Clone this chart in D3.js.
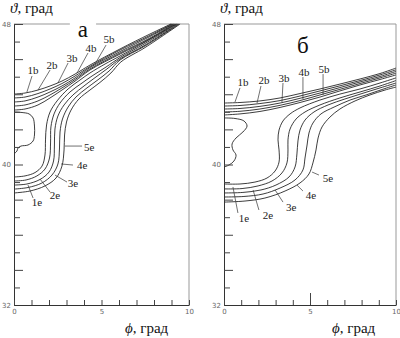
<!DOCTYPE html>
<html>
<head>
<meta charset="utf-8">
<script src="https://cdn.jsdelivr.net/npm/d3@7"></script>
<style>
  body { margin: 0; background: #fff; }
  svg { display: block; }
</style>
</head>
<body>
<div id="chart"></div>
<script>
// axis ranges and ticks (degrees)
const phiDomain = [0, 10];
const thetaDomain = [32, 48];
const phiTicks = [0, 1, 2, 3, 4, 5, 6, 7, 8, 9, 10];
const thetaTicks = [32, 33, 34, 35, 36, 37, 38, 39, 40, 41, 42, 43, 44, 45, 46, 47, 48];
const phiTickLabels = [0, 5, 10];
const thetaTickLabels = [32, 40, 48];

// panel "а": [phi, theta] points of each curve
const aB = [
  [[0,44.01],[0.63,44.07],[1.37,44.24],[2.06,44.47],[2.74,44.75],[3.49,45.15],[4.34,45.66],[6.06,46.58],[7.77,47.43],[8.97,48]],
  [[0,43.79],[0.63,43.84],[1.37,44.04],[2.06,44.30],[2.74,44.61],[3.49,45.04],[4.34,45.58],[6.06,46.52],[7.77,47.35],[9.03,48]],
  [[0,43.56],[0.63,43.62],[1.37,43.84],[2.06,44.13],[2.74,44.47],[3.49,44.93],[4.34,45.52],[6.06,46.43],[7.77,47.29],[9.09,48]],
  [[0,43.33],[0.63,43.39],[1.37,43.62],[2.06,43.96],[2.74,44.36],[3.49,44.84],[4.34,45.44],[6.06,46.35],[7.77,47.20],[9.14,48]],
  [[0,43.10],[0.63,43.16],[1.37,43.39],[2.06,43.79],[2.74,44.24],[3.49,44.75],[4.34,45.38],[6.06,46.29],[7.77,47.15],[9.2,48]]
];
const aE = [
  [[0,39.29],[0.63,39.35],[1.2,39.54],[1.6,39.91],[1.77,40.54],[1.8,41.4],[1.86,42.25],[2.06,42.99],[2.46,43.62],[3.09,44.3],[3.77,44.81],[4.34,45.21],[5.2,45.72],[6.06,46.18],[7.49,46.97],[9.26,48]],
  [[0,39.06],[0.69,39.12],[1.31,39.35],[1.77,39.74],[2.03,40.37],[2.09,41.28],[2.11,42.14],[2.29,42.88],[2.63,43.5],[3.2,44.13],[3.89,44.64],[4.46,45.04],[5.26,45.55],[6.06,46.09],[7.49,46.89],[9.31,48]],
  [[0,38.83],[0.74,38.89],[1.49,39.15],[2.0,39.57],[2.26,40.2],[2.31,41.11],[2.34,42.02],[2.51,42.76],[2.86,43.39],[3.37,43.96],[4.0,44.47],[4.57,44.9],[5.31,45.44],[6.06,46.01],[7.49,46.8],[9.37,48]],
  [[0,38.6],[0.8,38.69],[1.6,38.95],[2.17,39.4],[2.51,40.03],[2.6,40.94],[2.63,41.85],[2.77,42.59],[3.09,43.27],[3.54,43.84],[4.17,44.36],[4.74,44.78],[5.43,45.32],[6.06,45.95],[7.49,46.75],[9.43,48]],
  [[0,38.38],[0.91,38.49],[1.77,38.78],[2.4,39.23],[2.74,39.91],[2.86,40.83],[2.89,41.68],[3.0,42.42],[3.26,43.1],[3.71,43.73],[4.34,44.24],[4.91,44.67],[5.54,45.21],[6.11,45.84],[7.49,46.66],[9.49,48]]
];
const aInner = [[0,42.99],[0.46,42.96],[0.86,42.88],[1.09,42.65],[1.17,42.19],[1.17,41.68],[1.09,41.34],[0.8,41.11],[0.4,41.05],[0.23,40.94],[0.17,40.77],[0,40.6]];

// panel "б"
const bB = [
  [[0,43.50],[0.93,43.53],[2.09,43.62],[3.26,43.79],[4.42,44.04],[5.58,44.30],[6.74,44.58],[7.91,44.87],[9.07,45.18],[10,45.49]],
  [[0,43.33],[0.93,43.36],[2.09,43.47],[3.26,43.64],[4.42,43.90],[5.58,44.19],[6.74,44.48],[7.91,44.78],[9.07,45.10],[10,45.39]],
  [[0,43.16],[0.93,43.19],[2.09,43.31],[3.26,43.50],[4.42,43.77],[5.58,44.07],[6.74,44.38],[7.91,44.70],[9.07,45.01],[10,45.30]],
  [[0,42.99],[0.93,43.03],[2.09,43.16],[3.26,43.37],[4.42,43.64],[5.58,43.96],[6.74,44.28],[7.91,44.61],[9.07,44.93],[10,45.20]],
  [[0,42.82],[0.93,42.88],[2.09,43.02],[3.26,43.25],[4.42,43.53],[5.58,43.84],[6.74,44.19],[7.91,44.53],[9.07,44.84],[10,45.10]]
];
const bE = [
  [[0,38.89],[0.93,38.89],[1.8,39.0],[2.5,39.23],[2.97,39.63],[3.2,40.14],[3.2,40.83],[3.14,41.4],[3.2,41.96],[3.43,42.48],[3.84,42.88],[4.42,43.22],[5.58,43.67],[6.74,44.01],[7.91,44.3],[9.07,44.64],[10,44.93]],
  [[0,38.61],[1.05,38.63],[1.98,38.78],[2.79,39.06],[3.37,39.52],[3.66,40.09],[3.72,40.83],[3.72,41.4],[3.84,42.02],[4.19,42.59],[4.71,42.99],[5.58,43.39],[6.74,43.79],[7.91,44.13],[9.07,44.47],[10,44.78]],
  [[0,38.38],[1.1,38.41],[2.15,38.55],[3.02,38.83],[3.78,39.29],[4.13,39.86],[4.24,40.6],[4.3,41.34],[4.42,41.96],[4.71,42.53],[5.23,42.99],[6.05,43.39],[7.03,43.73],[8.02,44.04],[9.07,44.36],[10,44.64]],
  [[0,38.15],[1.16,38.18],[2.27,38.32],[3.26,38.66],[4.13,39.12],[4.59,39.69],[4.71,40.37],[4.83,41.11],[4.94,41.79],[5.17,42.36],[5.64,42.88],[6.4,43.27],[7.33,43.67],[8.26,43.96],[9.19,44.27],[10,44.53]],
  [[0,37.86],[1.22,37.92],[2.38,38.09],[3.55,38.49],[4.42,38.95],[4.94,39.46],[5.17,40.09],[5.35,40.83],[5.47,41.51],[5.7,42.14],[6.16,42.7],[6.74,43.16],[7.62,43.62],[8.49,43.96],[9.36,44.24],[10,44.41]]
];
const bInner = [[0,42.65],[0.64,42.62],[1.16,42.48],[1.34,42.19],[1.1,41.85],[0.7,41.51],[0.47,41.17],[0.52,40.83],[0.7,40.54],[0.58,40.2],[0.29,39.97],[0,39.86]];

// curve labels: text, label position, leader start, leader end
const aLabels = [
  ["1b", [1.09,45.38], [1.03,45.04], [0.74,44.13]],
  ["2b", [2.17,45.67], [2.06,45.38], [1.37,44.24]],
  ["3b", [3.31,46.06], [3.09,45.78], [2.51,44.64]],
  ["4b", [4.4,46.63], [4.23,46.35], [3.6,45.21]],
  ["5b", [5.43,47.15], [5.26,46.8], [4.63,45.72]],
  ["1e", [1.31,37.86], [1.09,38.09], [0.8,38.83]],
  ["2e", [2.34,38.26], [2.06,38.43], [1.49,39.17]],
  ["3e", [3.37,38.95], [3.03,39.0], [2.34,39.4]],
  ["4e", [3.89,39.97], [3.37,39.97], [2.69,40.03]],
  ["5e", [4.29,41.0], [3.89,41.05], [2.91,41.05]]
];
const bLabels = [
  ["1b", [1.1,44.7], [0.93,44.36], [0.64,43.56]],
  ["2b", [2.33,44.81], [2.15,44.47], [1.92,43.5]],
  ["3b", [3.49,44.93], [3.43,44.64], [3.37,43.56]],
  ["4b", [4.65,45.27], [4.59,44.98], [4.59,43.73]],
  ["5b", [5.81,45.44], [5.76,45.15], [5.76,43.96]],
  ["1e", [1.16,36.95], [0.81,37.24], [0.52,38.72]],
  ["2e", [2.56,37.12], [2.03,37.41], [1.69,38.55]],
  ["3e", [3.9,37.58], [3.43,37.86], [2.97,38.55]],
  ["4e", [5.06,38.26], [4.59,38.49], [4.24,38.83]],
  ["5e", [6.05,39.23], [5.52,39.4], [5.12,39.57]]
];

const svg = d3.select("#chart").append("svg")
  .attr("width", 400)
  .attr("height", 338);

const panels = [
  { left: 14, right: 189, letter: "а", letterAt: [3.94, 47.66], boxed: true,
    b: aB, e: aE, inner: aInner, labels: aLabels, longTick5: false },
  { left: 224, right: 396, letter: "б", letterAt: [4.59, 46.8], boxed: false,
    b: bB, e: bE, inner: bInner, labels: bLabels, longTick5: true }
];

const plotTop = 24, plotBottom = 305;

panels.forEach(p => {
  const x = d3.scaleLinear().domain(phiDomain).range([p.left, p.right]);
  const y = d3.scaleLinear().domain(thetaDomain).range([plotBottom, plotTop]);
  const g = svg.append("g");

  // top and right frame (grey)
  g.append("path")
    .attr("d", `M${x(0)},${y(48)}H${x(10)}V${y(32)}`)
    .attr("fill", "none")
    .attr("stroke", "#999")
    .attr("stroke-width", 1);

  const line = d3.line()
    .x(d => x(d[0]))
    .y(d => y(d[1]))
    .curve(d3.curveCatmullRom.alpha(0.5));

  const curves = [...p.b, ...p.e, p.inner];
  g.selectAll("path.curve")
    .data(curves)
    .enter()
    .append("path")
    .attr("class", "curve")
    .attr("d", line)
    .attr("fill", "none")
    .attr("stroke", "#1a1a1a")
    .attr("stroke-width", 0.85);

  // leader lines and labels
  g.selectAll("line.leader")
    .data(p.labels)
    .enter()
    .append("line")
    .attr("x1", d => x(d[2][0]))
    .attr("y1", d => y(d[2][1]))
    .attr("x2", d => x(d[3][0]))
    .attr("y2", d => y(d[3][1]))
    .attr("stroke", "#333")
    .attr("stroke-width", 0.7);

  g.selectAll("text.lbl")
    .data(p.labels)
    .enter()
    .append("text")
    .attr("x", d => x(d[1][0]))
    .attr("y", d => y(d[1][1]))
    .attr("text-anchor", "middle")
    .attr("dominant-baseline", "central")
    .style("font-family", "'Liberation Serif', serif")
    .style("font-size", "11px")
    .style("fill", "#222")
    .text(d => d[0]);

  // left axis, ticks pointing inward
  const yAxis = g.append("g")
    .attr("transform", `translate(${p.left},0)`)
    .call(d3.axisLeft(y)
      .tickValues(thetaTicks)
      .tickSizeInner(-6)
      .tickSizeOuter(0)
      .tickPadding(3)
      .tickFormat(d => thetaTickLabels.includes(d) ? d : ""));
  yAxis.selectAll(".tick line")
    .attr("x2", d => d % 2 === 0 ? 9 : 6)
    .attr("stroke", "#444");
  yAxis.select(".domain").attr("stroke", "#333");

  const xAxis = g.append("g")
    .attr("transform", `translate(0,${plotBottom})`)
    .call(d3.axisBottom(x)
      .tickValues(phiTicks)
      .tickSizeInner(-5)
      .tickSizeOuter(0)
      .tickPadding(4)
      .tickFormat(d => phiTickLabels.includes(d) ? d : ""));
  xAxis.selectAll(".tick line")
    .attr("y2", d => (p.longTick5 && d === 5) ? -12 : -5)
    .attr("stroke", "#444");
  xAxis.select(".domain").attr("stroke", "#333");

  [yAxis, xAxis].forEach(ax => ax.selectAll("text")
    .style("font-family", "'DejaVu Sans', sans-serif")
    .style("font-size", "7px")
    .style("fill", "#666"));

  // panel letter
  const letter = g.append("text")
    .attr("x", x(p.letterAt[0]))
    .attr("y", y(p.letterAt[1]))
    .attr("text-anchor", "middle")
    .attr("dominant-baseline", "central")
    .style("font-family", "'Liberation Serif', serif")
    .style("font-size", "23px")
    .style("fill", "#111")
    .text(p.letter);
  if (p.boxed) {
    const bb = letter.node().getBBox();
    g.insert("rect", () => letter.node())
      .attr("x", bb.x - 8)
      .attr("y", bb.y - 2)
      .attr("width", bb.width + 16)
      .attr("height", bb.height + 2)
      .attr("fill", "#fff");
  }

  // axis titles
  const yTitle = svg.append("text")
    .attr("x", p.left - 4)
    .attr("y", 13)
    .style("font-family", "'Liberation Serif', serif")
    .style("font-size", "15px")
    .style("fill", "#111");
  yTitle.append("tspan").style("font-style", "italic").text("ϑ");
  yTitle.append("tspan").text(", град");

  const xTitle = svg.append("text")
    .attr("x", p.right - 64)
    .attr("y", 333)
    .style("font-family", "'Liberation Serif', serif")
    .style("font-size", "15px")
    .style("fill", "#111");
  xTitle.append("tspan").style("font-style", "italic").text("ϕ");
  xTitle.append("tspan").text(", град");
});
</script>
</body>
</html>
